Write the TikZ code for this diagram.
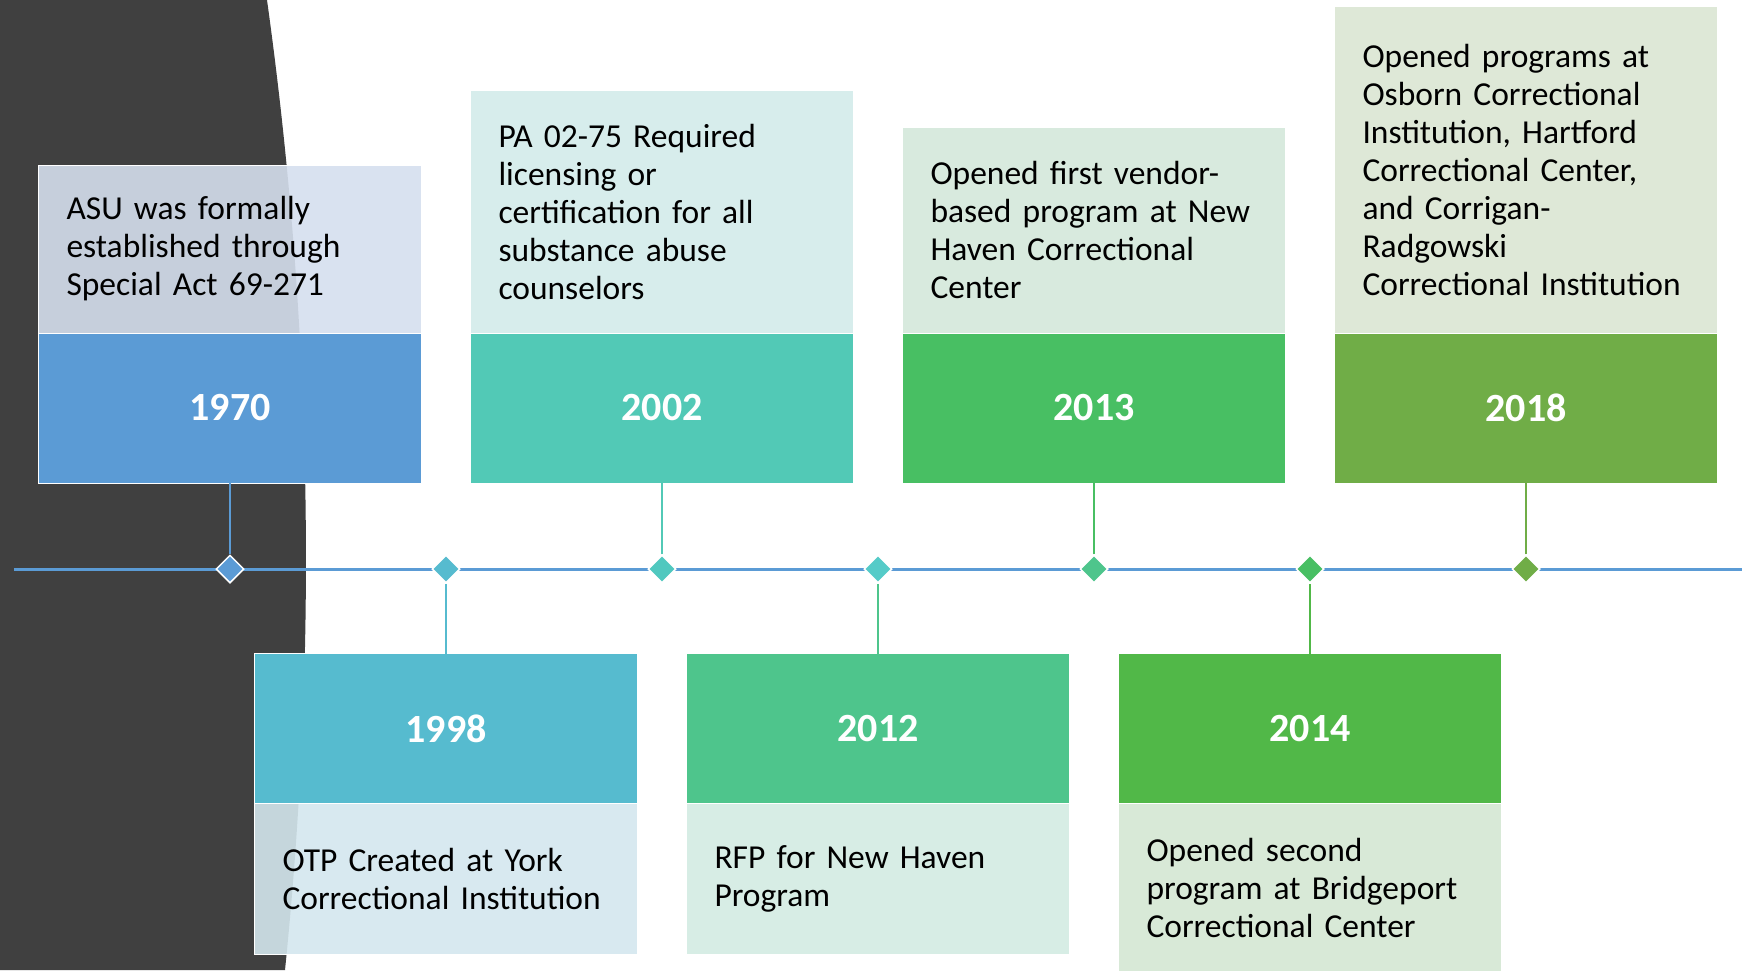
\documentclass[tikz,border=0pt]{standalone}
\usepackage{fontspec}
\setmainfont{Carlito}
\usetikzlibrary{positioning,shapes.geometric}

\definecolor{darkbg}{HTML}{404040}
\definecolor{lineblue}{HTML}{5B9BD5}
% year colours
\definecolor{c1970}{HTML}{5B9BD5}
\definecolor{c1998}{HTML}{56BBCF}
\definecolor{c2002}{HTML}{52C9B6}
\definecolor{c2012}{HTML}{4EC58C}
\definecolor{c2013}{HTML}{48BF63}
\definecolor{c2014}{HTML}{51B848}
\definecolor{c2018}{HTML}{70AD47}
% text panel colours
\definecolor{l1970}{HTML}{D5DFEE}
\definecolor{l1998}{HTML}{D4E7EE}
\definecolor{l2002}{HTML}{D3EBEA}
\definecolor{l2012}{HTML}{D3EBE2}
\definecolor{l2013}{HTML}{D4E8DA}
\definecolor{l2014}{HTML}{D4E7D3}
\definecolor{l2018}{HTML}{DAE5D3}
% marker colours
\definecolor{d2002}{HTML}{50C8BF}
\definecolor{d2012}{HTML}{55CBC8}

\begin{document}
\begin{tikzpicture}[x=0.5pt, y=-0.5pt,
        year/.style={rectangle, fill=#1, draw=white, line width=0.3pt, minimum width=191.5pt, minimum height=75pt,
            inner sep=0pt, outer sep=0pt, text=white, font=\fontsize{20}{24}\selectfont\bfseries},
        info/.style={rectangle, fill=#1, fill opacity=0.9, text opacity=1, draw=white, line width=0.3pt,
            text width=163.5pt, inner xsep=14pt, inner ysep=0pt, outer sep=0pt, align=left,
            font=\fontsize{16.75}{19}\selectfont},
        dot/.style={diamond, fill=#1, draw=white, line width=0.75pt, minimum size=14pt, inner sep=0pt},
        link/.style={draw=#1, line width=0.75pt}
    ]
        % Background
        \fill[darkbg] (0,0) -- (267,0) .. controls (312,323) and (318,647) .. (285,970) -- (0,970) -- cycle;
        \useasboundingbox (0,0) rectangle (1752,970);

        % Timeline
        \coordinate (tl-start) at (14,569);
        \coordinate (tl-end) at (1742,569);
        \draw[lineblue, line width=1.5pt] (tl-start) -- (tl-end);

        % Years
        \node[year=c1970] (y1970) at (230,408) {1970};
        \node[year=c1998] (y1998) at (446,728.5) {1998};
        \node[year=c2002] (y2002) at (662,408) {2002};
        \node[year=c2012] (y2012) at (878,728.5) {2012};
        \node[year=c2013] (y2013) at (1094,408) {2013};
        \node[year=c2014] (y2014) at (1310,728.5) {2014};
        \node[year=c2018] (y2018) at (1526,408) {2018};

        % Texts
        \node[info=l1970, minimum height=84pt, above=0pt of y1970] (t1970) {
            \mbox{ASU was formally}\\
            \mbox{established through}\\
            \mbox{Special Act 69-271}
        };
        \node[info=l1998, minimum height=75.5pt, below=0pt of y1998] (t1998) {
            \mbox{OTP Created at York}\\
            \mbox{Correctional Institution}
        };
        \node[info=l2002, minimum height=121.5pt, above=0pt of y2002] (t2002) {
            \mbox{PA 02-75 Required}\\
            licensing or\\
            \mbox{certification for all}\\
            \mbox{substance abuse}\\
            counselors
        };
        \node[info=l2012, minimum height=75.5pt, below=0pt of y2012] (t2012) {
            \mbox{RFP for New Haven}\\
            Program
        };
        \node[info=l2013, minimum height=103pt, above=0pt of y2013] (t2013) {
            \mbox{Opened first vendor-}\\
            \mbox{based program at New}\\
            \mbox{Haven Correctional}\\
            Center
        };
        \node[info=l2014, minimum height=84pt, below=0pt of y2014] (t2014) {
            \mbox{Opened second}\\
            \mbox{program at Bridgeport}\\
            \mbox{Correctional Center}
        };
        \node[info=l2018, minimum height=163.5pt, above=0pt of y2018] (t2018) {
            \mbox{Opened programs at}\\
            \mbox{Osborn Correctional}\\
            \mbox{Institution, Hartford}\\
            \mbox{Correctional Center,}\\
            \mbox{and Corrigan-}\\
            Radgowski\\
            \mbox{Correctional Institution}
        };

        % Markers
        \node[dot=c1970] (m1970) at (230,569) {};
        \node[dot=c1998] (m1998) at (446,569) {};
        \node[dot=d2002] (m2002) at (662,569) {};
        \node[dot=d2012] (m2012) at (878,569) {};
        \node[dot=c2012] (m2013) at (1094,569) {};
        \node[dot=c2013] (m2014) at (1310,569) {};
        \node[dot=c2018] (m2018) at (1526,569) {};

        % Links
        \draw[link=c1970] (m1970) -- (y1970);
        \draw[link=c1998] (m1998) -- (y1998);
        \draw[link=c2002] (m2002) -- (y2002);
        \draw[link=c2012] (m2012) -- (y2012);
        \draw[link=c2013] (m2013) -- (y2013);
        \draw[link=c2014] (m2014) -- (y2014);
        \draw[link=c2018] (m2018) -- (y2018);
    \end{tikzpicture}
\end{document}
